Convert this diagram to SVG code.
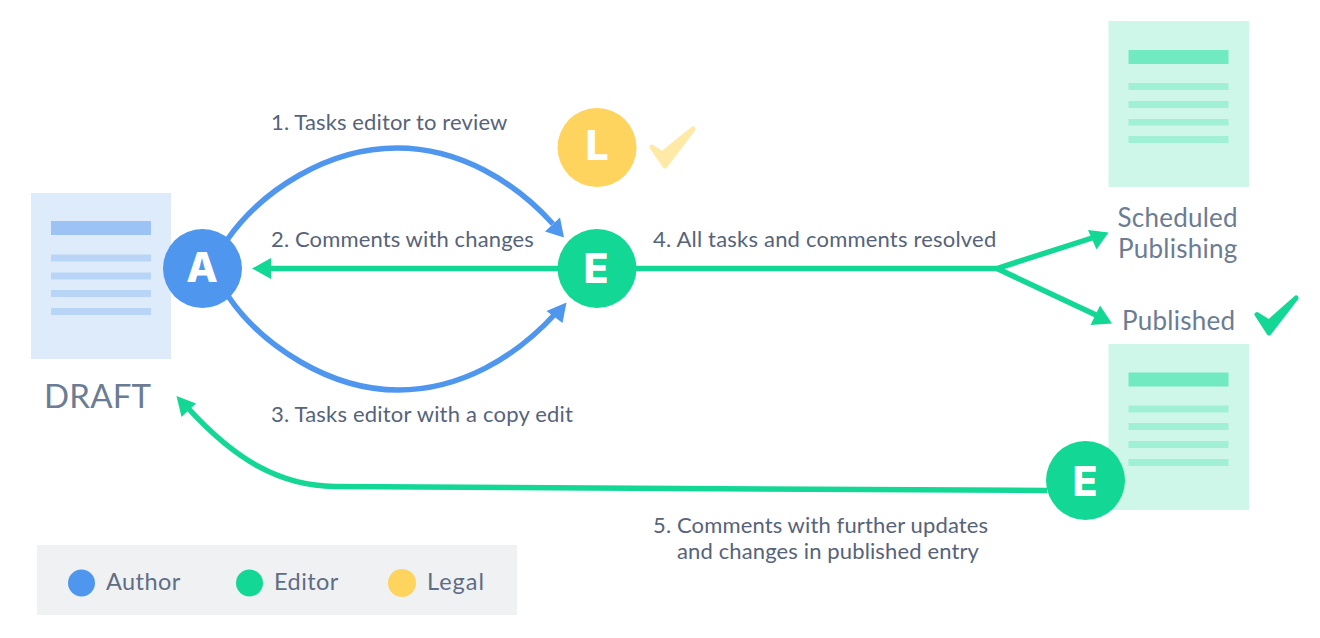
<svg xmlns="http://www.w3.org/2000/svg" width="1320" height="638" viewBox="0 0 1320 638">
<defs>
<style>
text{font-family:Lato,"Open Sans","Liberation Sans",sans-serif}
.lbl{font-size:22px;fill:#56637a;letter-spacing:.13px}
.wide{letter-spacing:.2px}
.cap{font-size:26px;fill:#6b7c93;letter-spacing:.25px}
.leg{font-size:23.5px;fill:#5f6d85;letter-spacing:.45px}
.ini{font-family:Inter,Lato,"Liberation Sans",sans-serif;font-size:41px;font-weight:800;fill:#fff;text-anchor:middle}
.bl{fill:none;stroke:#4e96ee;stroke-width:5.5}
.gr{fill:none;stroke:#12d795;stroke-width:5.5}
.blh{fill:#4e96ee}.grh{fill:#12d795}
.docb{fill:#deebfb}.docg{fill:#cff7e9}
.hb{fill:#9cc3f4}.lb{fill:#b8d5f7}
.hg{fill:#71e9c1}.lg{fill:#a0f0d5}
</style>
</defs>
<rect width="1320" height="638" fill="#fff"/>
<g id="doc-draft">
<rect class="docb" x="31" y="193" width="140" height="166"/>
<rect class="hb" x="51" y="221" width="100" height="14"/>
<rect class="lb" x="51" y="254.500" width="100" height="7"/>
<rect class="lb" x="51" y="272.500" width="100" height="7"/>
<rect class="lb" x="51" y="290" width="100" height="7"/>
<rect class="lb" x="51" y="308" width="100" height="7"/>
<text class="cap" x="44" y="408" style="font-size:33px;letter-spacing:.2px">DRAFT</text>
</g>
<g id="doc-scheduled">
<rect class="docg" x="1108.500" y="21" width="140.500" height="166"/>
<rect class="hg" x="1128.500" y="50" width="100" height="14"/>
<rect class="lg" x="1128.500" y="83" width="100" height="7"/>
<rect class="lg" x="1128.500" y="101" width="100" height="7"/>
<rect class="lg" x="1128.500" y="119" width="100" height="6.500"/>
<rect class="lg" x="1128.500" y="136" width="100" height="7"/>
<text class="cap" x="1117.500" y="227">Scheduled</text>
<text class="cap" x="1118" y="258">Publishing</text>
</g>
<g id="doc-published">
<rect class="docg" x="1108.500" y="344" width="140.500" height="166"/>
<rect class="hg" x="1128.500" y="372.500" width="100" height="14"/>
<rect class="lg" x="1128.500" y="405.500" width="100" height="7"/>
<rect class="lg" x="1128.500" y="423" width="100" height="7"/>
<rect class="lg" x="1128.500" y="441" width="100" height="7"/>
<rect class="lg" x="1128.500" y="459" width="100" height="7"/>
<text class="cap" x="1122" y="329.500">Published</text>
<path id="check-published" d="M1257 314.500L1269 322L1296 298L1269 333Z" fill="#12d795" stroke="#12d795" stroke-width="5" stroke-linejoin="round"/>
</g>
<g id="connectors">
<path class="bl" d="M227 240C262 190 328 148 397 148C460 148 515 182 553 224"/>
<path class="blh" d="M564 237.500L560 217.500L545 231.500Z"/>
<path class="bl" d="M228 296C262 346 330 390 398 390C460 390 515 358 556 313"/>
<path class="blh" d="M566.500 302.500L546.500 311L562.500 323Z"/>
<path class="gr" d="M270 268.500H558"/>
<path class="grh" d="M252 268.500L271 258V279Z"/>
<path class="gr" d="M636 268.500H997L1092 238"/>
<path class="grh" d="M1108.500 232.500L1088 230L1096.500 249.500Z"/>
<path class="gr" d="M997 268.500L1096 315"/>
<path class="grh" d="M1112 323.500L1100 305.500L1090.500 325Z"/>
<path class="gr" d="M1047 490.500L335 486.500C280 486 235 460 187 407"/>
<path class="grh" d="M176.500 396L196 403.500L181.500 417Z"/>
</g>
<g id="node-author"><circle cx="202.500" cy="268.500" r="39.500" fill="#4e96ee"/><text class="ini" x="202" y="281.500">A</text></g>
<g id="node-editor"><circle cx="597" cy="268.500" r="39.500" fill="#12d795"/><text class="ini" x="596" y="283">E</text></g>
<g id="node-legal"><circle cx="597" cy="147.500" r="39.500" fill="#ffd45e"/><text class="ini" x="597" y="159.500">L</text>
<path id="check-legal" d="M652 147L662 154L693 129L665 166Z" fill="#ffe9a6" stroke="#ffe9a6" stroke-width="5" stroke-linejoin="round"/></g>
<g id="node-editor-published"><circle cx="1085.500" cy="480.500" r="39.500" fill="#12d795"/><text class="ini" x="1085" y="495.500">E</text></g>
<g id="labels">
<text class="lbl" x="271" y="130">1. Tasks editor to review</text>
<text class="lbl" x="271" y="247">2. Comments with changes</text>
<text class="lbl wide" x="271" y="422">3. Tasks editor with a copy edit</text>
<text class="lbl wide" x="653" y="247">4. All tasks and comments resolved</text>
<text class="lbl" x="653" y="533">5. Comments with further updates</text>
<text class="lbl" x="677" y="559">and changes in published entry</text>
</g>
<g id="legend">
<rect x="37" y="545" width="480" height="70" fill="#eff1f3"/>
<circle cx="81.500" cy="583" r="13.500" fill="#4e96ee"/>
<text class="leg" x="106" y="590">Author</text>
<circle cx="249.500" cy="583" r="13.500" fill="#12d795"/>
<text class="leg" x="274" y="590">Editor</text>
<circle cx="402" cy="583" r="14" fill="#ffd45e"/>
<text class="leg" x="427" y="590" style="letter-spacing:1px">Legal</text>
</g>
</svg>
